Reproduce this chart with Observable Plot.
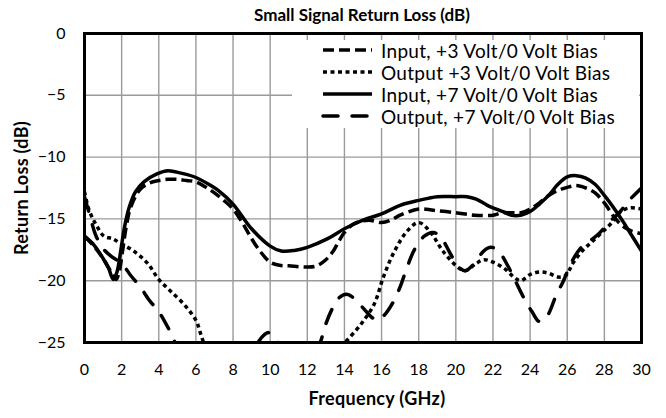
<!DOCTYPE html>
<html><head><meta charset="utf-8">
<script src="https://cdn.jsdelivr.net/npm/d3@7"></script>
<script src="https://cdn.jsdelivr.net/npm/@observablehq/plot@0.6"></script>
<style>body{margin:0;background:#fff} svg{display:block}</style>
</head><body><div id="chart"></div>
<script>
// Tick values
const xTicks = [0,2,4,6,8,10,12,14,16,18,20,22,24,26,28,30];
const yTicks = [0,-5,-10,-15,-20,-25];

// Series labels
const seriesNames = ["Input, +3 Volt/0 Volt Bias","Output +3 Volt/0 Volt Bias","Input, +7 Volt/0 Volt Bias","Output, +7 Volt/0 Volt Bias"];

// Input, +3 V / 0 V
const in3Freq = [0,0.5,1.0,1.4,1.7,1.85,2.05,2.25,2.5,3.0,3.5,4.0,4.5,5.0,5.5,6.0,6.5,7.0,7.5,8.0,8.5,9.0,9.5,10.0,10.5,11.0,12.0,12.5,13.0,13.4,13.7,14.0,14.5,15.3,16.0,16.5,17.0,18.0,18.8,20.0,21.0,22.0,22.5,23.0,23.5,24.0,24.5,25.0,25.5,26.0,26.5,27.0,27.5,28.0,28.5,29.0,29.5,30.0];
const in3Loss = [-16.4,-17.2,-18.2,-19.2,-19.9,-19.4,-17.6,-15.6,-14.0,-12.6,-12.1,-11.9,-11.8,-11.8,-11.9,-12.0,-12.4,-12.9,-13.5,-14.2,-15.3,-16.6,-17.7,-18.5,-18.75,-18.8,-18.9,-18.8,-18.3,-17.6,-16.8,-16.1,-15.4,-15.1,-15.3,-15.1,-14.7,-14.2,-14.3,-14.5,-14.7,-14.7,-14.5,-14.5,-14.5,-14.2,-13.7,-13.1,-12.7,-12.45,-12.3,-12.5,-12.9,-13.7,-14.8,-15.6,-16.0,-16.2];

// Output +3 V / 0 V
const out3Freq = [0,0.25,0.6,1.05,1.5,1.95,2.65,3.4,4.0,4.6,5.35,6.0,6.3,6.6,7.2,9,11,13,13.7,14.1,14.9,15.6,16.1,16.7,17.4,18.0,18.6,19.3,20.1,20.5,21.1,21.5,22.0,22.6,23.2,23.5,24.0,24.5,25.0,25.5,25.9,26.3,26.8,27.3,27.8,28.4,28.9,29.4,30.0];
const out3Loss = [-12.8,-14.3,-15.4,-16.4,-16.6,-17.0,-17.6,-18.6,-19.9,-20.8,-21.9,-23.2,-24.5,-25.8,-27.5,-29,-29,-27.5,-25.6,-24.9,-23.5,-21.9,-19.7,-17.6,-15.95,-15.3,-16.0,-17.6,-18.9,-19.2,-18.6,-18.3,-18.5,-19.0,-19.8,-20.0,-19.5,-19.3,-19.4,-19.7,-19.6,-18.6,-17.6,-16.9,-16.2,-15.3,-14.4,-14.1,-14.2];

// Input, +7 V / 0 V
const in7Freq = [0,0.5,1.0,1.3,1.55,1.75,1.95,2.15,2.4,2.75,3.2,3.9,4.5,5.2,6.0,6.8,7.2,8.0,9.0,10.0,10.6,11.3,12.0,13.1,14.0,15.0,16.0,17.0,18.0,19.0,20.0,20.6,21.1,21.7,22.5,23.0,23.5,24.0,24.5,25.0,25.5,26.0,26.5,27.0,27.5,28.0,28.5,29.0,29.5,30.0];
const in7Loss = [-16.4,-17.1,-18.2,-19.0,-19.9,-19.3,-17.6,-15.7,-14.1,-12.8,-12.0,-11.35,-11.1,-11.3,-11.65,-12.3,-12.7,-13.8,-15.8,-17.2,-17.6,-17.55,-17.3,-16.6,-15.8,-15.1,-14.6,-13.9,-13.5,-13.2,-13.2,-13.2,-13.4,-13.9,-14.4,-14.7,-14.7,-14.4,-13.8,-13.1,-12.2,-11.6,-11.5,-11.7,-12.2,-13.1,-14.1,-15.2,-16.4,-17.6];

// Output, +7 V / 0 V
const out7Freq = [0,0.3,0.6,1.0,1.5,2.0,2.5,3.0,3.5,4.0,4.5,5.0,6.0,7.5,8.5,9.2,9.6,9.9,10.2,10.6,11.5,12.4,12.7,13.0,13.3,13.7,14.1,14.5,15.0,15.5,15.8,16.2,16.6,17.0,17.4,17.8,18.3,18.8,19.2,19.7,20.1,20.5,21.0,21.5,21.9,22.3,22.8,23.2,23.7,24.1,24.5,24.9,25.4,25.8,26.2,26.7,27.2,27.7,28.3,28.8,29.4,30.0];
const out7Loss = [-13.2,-14.8,-16.3,-17.4,-18.1,-18.6,-19.6,-20.5,-21.6,-22.5,-23.8,-25.3,-27,-28,-26.8,-25.3,-24.5,-24.2,-24.5,-25.4,-27,-26,-25.0,-23.5,-22.4,-21.4,-21.1,-21.4,-22.2,-23.0,-23.2,-22.7,-21.8,-20.5,-18.8,-17.4,-16.4,-16.1,-16.5,-17.8,-18.8,-19.2,-18.6,-17.6,-17.3,-17.6,-18.8,-20.0,-21.5,-22.5,-23.3,-22.9,-21.2,-20.0,-18.6,-17.4,-16.8,-16.2,-15.2,-14.5,-13.4,-12.5];

const toRows = (fx, fy) => fx.map((f, i) => ({freq: f, loss: fy[i]}));
const series = [
  {name: seriesNames[0], rows: toRows(in3Freq, in3Loss), dash: "11,5", cap: "butt"},
  {name: seriesNames[1], rows: toRows(out3Freq, out3Loss), dash: "4,3.5", cap: "butt"},
  {name: seriesNames[2], rows: toRows(in7Freq, in7Loss), dash: null, cap: "butt"},
  {name: seriesNames[3], rows: toRows(out7Freq, out7Loss), dash: "15,14", cap: "round"}
];
const SW = 3.5;

const chart = Plot.plot({
  width: 666, height: 418,
  marginLeft: 84, marginRight: 25, marginTop: 33, marginBottom: 76,
  style: {fontFamily: "Lato, sans-serif", fontSize: "16px", color: "#000", background: "#fff", overflow: "visible"},
  x: {domain: [0, 30], ticks: xTicks, tickSize: 0, tickPadding: 21, label: null},
  y: {domain: [-25, 0], ticks: yTicks, tickSize: 0, tickPadding: 19, label: null},
  marks: [
    Plot.ruleX(xTicks, {stroke: "#9a9a9a", strokeWidth: 1.4}),
    Plot.ruleY(yTicks, {stroke: "#9a9a9a", strokeWidth: 1.4}),
    ...series.map(s => Plot.line(s.rows, {
      x: "freq", y: "loss", curve: "catmull-rom", clip: true,
      stroke: "#000", strokeWidth: SW, strokeDasharray: s.dash || undefined,
      strokeLinecap: s.cap, strokeLinejoin: "round"
    })),
    Plot.frame({stroke: "#000", strokeWidth: 3})
  ]
});
document.getElementById("chart").appendChild(chart);

const svg = d3.select(chart);
const font = "Lato, sans-serif";
// Title and axis titles
svg.append("text").attr("x", 362).attr("y", 14).attr("text-anchor", "middle").attr("dominant-baseline", "central")
  .attr("font-family", font).attr("font-weight", "bold").attr("font-size", 17).text("Small Signal Return Loss (dB)");
svg.append("text").attr("x", 377).attr("y", 398).attr("text-anchor", "middle").attr("dominant-baseline", "central")
  .attr("font-family", font).attr("font-weight", "bold").attr("font-size", 18).attr("letter-spacing", 0.3).text("Frequency (GHz)");
svg.append("text").attr("transform", "translate(21,188) rotate(-90)").attr("text-anchor", "middle").attr("dominant-baseline", "central")
  .attr("font-family", font).attr("font-weight", "bold").attr("font-size", 18).attr("letter-spacing", 0.3).text("Return Loss (dB)");

// Legend
const lg = svg.append("g");
lg.append("rect").attr("x", 292).attr("y", 40).attr("width", 347).attr("height", 88).attr("fill", "#fff");
series.forEach((s, i) => {
  const y = 50 + i * 22;
  lg.append("line").attr("x1", 323).attr("x2", 372).attr("y1", y).attr("y2", y)
    .attr("stroke", "#000").attr("stroke-width", SW)
    .attr("stroke-dasharray", s.dash || null).attr("stroke-linecap", s.cap);
  lg.append("text").attr("x", 381).attr("y", y).attr("text-anchor", "start").attr("dominant-baseline", "central")
    .attr("font-family", font).attr("font-size", 19).attr("letter-spacing", 0.3).text(s.name);
});
</script>
</body></html>
